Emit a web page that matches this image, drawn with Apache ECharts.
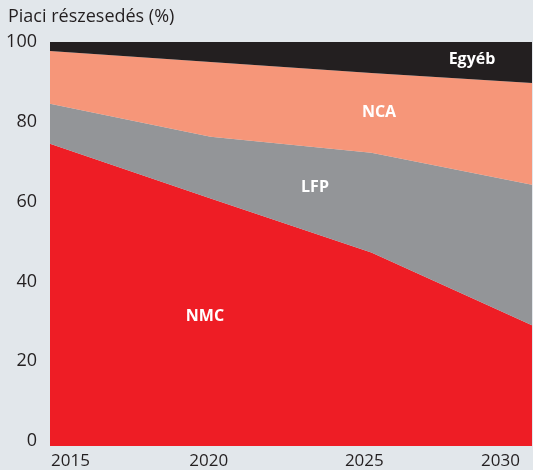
<!DOCTYPE html>
<html style="height: 100%">
<head>
<meta charset="utf-8">
<script src="https://cdn.jsdelivr.net/npm/echarts@6/dist/echarts.min.js"></script>
</head>
<body style="height: 100%; margin: 0; background: #e2e7eb">
<div id="container" style="width: 533px; height: 470px"></div>
<script type="text/javascript">
var years = ['2015', '2020', '2025', '2030'];
var nmc = [74.5, 60.75, 47.25, 29];
var lfp = [10, 15.5, 25, 35.25];
var nca = [13.25, 18.75, 20, 25.5];
var other = [2.25, 5, 7.75, 10.25];
var yTicks = [0, 20, 40, 60, 80, 100];

var font = '"Open Sans", "Noto Sans", sans-serif';
var dom = document.getElementById('container');
var myChart = echarts.init(dom);

function area(name, data, color, first) {
	return {
		name: name,
		type: 'line',
		stack: 'share',
		data: data,
		showSymbol: false,
		lineStyle: { width: 0 },
		areaStyle: { color: color, opacity: 1, origin: first ? 'start' : 'auto' },
		emphasis: { disabled: true },
		silent: true
	};
}

// x label nudges (left offset px) to mimic the original placement
var xPad = { '2015': 0, '2020': 4, '2025': 14, '2030': 12 };

function label(text, x, y, size) {
	return {
		type: 'text', x: x, y: y, z: 100,
		style: { text: text, font: 'bold ' + size + 'px ' + font, fill: '#fff', align: 'center', verticalAlign: 'middle' }
	};
}

var option = {
	backgroundColor: '#e2e7eb',
	animation: false,
	textStyle: { fontFamily: font },
	grid: { left: 50, right: 1, top: 42, bottom: 23 },
	xAxis: {
		type: 'category',
		boundaryGap: false,
		data: years,
		axisLine: { show: false },
		axisTick: { show: false },
		axisLabel: {
			margin: 7,
			fontSize: 17,
			color: '#231f20',
			fontFamily: font,
			alignMinLabel: 'left',
			alignMaxLabel: 'right',
			formatter: function (v) { return '{p' + v + '|' + v + '}'; },
			rich: {
				p2015: { fontSize: 17, color: '#231f20', padding: [0, 0, 0, 1] },
				p2020: { fontSize: 17, color: '#231f20', padding: [0, xPad['2020'], 0, 0] },
				p2025: { fontSize: 17, color: '#231f20', padding: [0, xPad['2025'], 0, 0] },
				p2030: { fontSize: 17, color: '#231f20', padding: [0, xPad['2030'], 0, 0] }
			}
		}
	},
	yAxis: {
		type: 'value',
		min: -1.25,
		max: 100,
		splitLine: { show: false },
		axisLine: { show: false },
		axisTick: { show: false },
		axisLabel: {
			customValues: yTicks,
			margin: 13,
			fontSize: 18,
			color: '#231f20',
			fontFamily: font
		}
	},
	graphic: [
		{ type: 'text', left: 8, top: 8, z: 100, style: { text: 'Piaci részesedés (%)', font: '18px ' + font, fill: '#231f20' } },
		label('Egyéb', 472, 59, 16),
		label('NCA', 379, 112, 16),
		label('LFP', 315, 187, 16),
		label('NMC', 205, 316, 16)
	],
	series: [
		area('NMC', nmc, '#ee1d25', true),
		area('LFP', lfp, '#939598'),
		area('NCA', nca, '#f69679'),
		area('Egyéb', other, '#231f20')
	]
};

myChart.setOption(option);
</script>
</body>
</html>
